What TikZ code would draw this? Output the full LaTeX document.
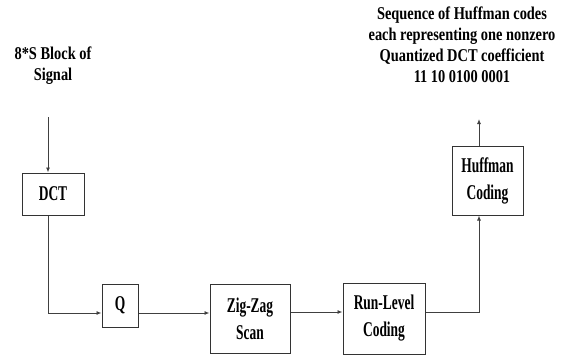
\documentclass[tikz,border=0pt]{standalone}
\usepackage{fontspec}
\setmainfont{Liberation Serif}
\newfontfamily\boxfont[FakeStretch=0.64]{Liberation Serif}
\newfontfamily\lblfont[FakeStretch=0.8]{Liberation Serif}
\usetikzlibrary{arrows.meta}
\begin{document}
\begin{tikzpicture}[x=1pt,y=-1pt,
  blk/.style={draw=black!80,line width=1pt,inner sep=0pt,align=center,font=\boxfont\bfseries\fontsize{21}{27}\selectfont},
  conn/.style={draw=black!75,line width=0.9pt,-{Latex[length=5pt,width=4pt]}},
  lbl/.style={align=center,font=\lblfont\bfseries\fontsize{18}{21}\selectfont}]
\useasboundingbox (0,0) rectangle (576,356);
\node[blk,minimum width=62pt,minimum height=42pt] (dct) at (53,194) {DCT};
\node[blk,minimum width=36pt,minimum height=43pt] (q) at (120,305.5) {Q};
\node[blk,minimum width=80pt,minimum height=69pt] (zz) at (250,318.5) {Zig-Zag\\Scan};
\node[blk,minimum width=82pt,minimum height=71pt] (rl) at (384,318.5) {Run-Level\\Coding};
\node[blk,minimum width=71pt,minimum height=69pt] (hc) at (487.5,180.5) {Huffman\\Coding};
\node[lbl] (in) at (53,66) {8*S Block of\\Signal};
\node[lbl] (out) at (462,45) {Sequence of Huffman codes\\each representing one nonzero\\Quantized DCT coefficient\\11 10 0100 0001};
\coordinate (inA) at (48,117);
\coordinate (outA) at (479,119);
\draw[conn] (inA) -- (inA |- dct.north);
\draw[conn] (dct.south -| inA) |- (q.west |- 0,313);
\draw[conn] (q.east |- 0,313) -- (zz.west |- 0,313);
\draw[conn] (zz.east |- 0,312) -- (rl.west |- 0,312);
\draw[conn] (rl.east |- 0,312) -| (outA |- hc.south);
\draw[conn] (outA |- hc.north) -- (outA);
\end{tikzpicture}
\end{document}
